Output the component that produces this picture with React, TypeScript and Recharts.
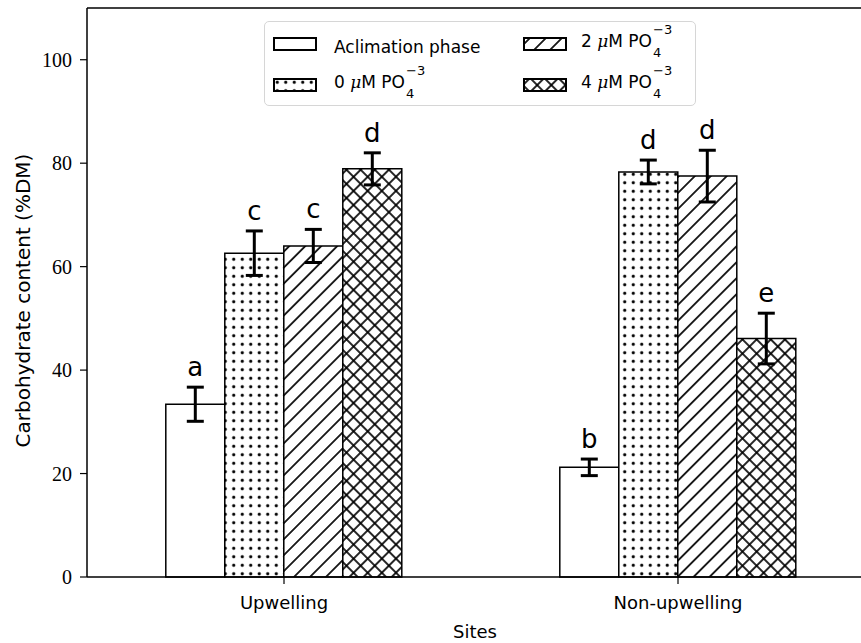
import { Bar, BarChart, ErrorBar, LabelList, Legend, ReferenceLine, XAxis, YAxis } from 'recharts';

const sites = ['Upwelling', 'Non-upwelling'];
const aclimation = [33.4, 21.2];
const po0 = [62.6, 78.3];
const po2 = [64.0, 77.5];
const po4 = [78.9, 46.1];
const aclimationErr = [3.3, 1.6];
const po0Err = [4.3, 2.3];
const po2Err = [3.2, 5.0];
const po4Err = [3.1, 4.9];
const aclimationLetters = ['a', 'b'];
const po0Letters = ['c', 'd'];
const po2Letters = ['c', 'd'];
const po4Letters = ['d', 'e'];
const yTicks = [0, 20, 40, 60, 80, 100];
const yMax = 110;

const data = sites.map((site, i) => ({
  site,
  acl: aclimation[i],
  p0: po0[i],
  p2: po2[i],
  p4: po4[i],
  eAcl: aclimationErr[i],
  e0: po0Err[i],
  e2: po2Err[i],
  e4: po4Err[i],
  lAcl: aclimationLetters[i],
  l0: po0Letters[i],
  l2: po2Letters[i],
  l4: po4Letters[i],
}));

const series = [
  { key: 'acl', err: 'eAcl', letter: 'lAcl', fill: '#fff', name: 'Aclimation phase' },
  { key: 'p0', err: 'e0', letter: 'l0', fill: 'url(#dots)', name: '0' },
  { key: 'p2', err: 'e2', letter: 'l2', fill: 'url(#diag)', name: '2' },
  { key: 'p4', err: 'e4', letter: 'l4', fill: 'url(#cross)', name: '4' },
];

// hatch patterns (dots, '/', 'x')
function Patterns({ prefix }: { prefix: string }) {
  return (
    <defs>
      <pattern id={prefix + 'dots'} width={8.5} height={8.5} patternUnits="userSpaceOnUse">
        <rect width={8.5} height={8.5} fill="#fff" />
        <circle cx={4.25} cy={4.25} r={1.6} fill="#000" />
      </pattern>
      <pattern id={prefix + 'diag'} width={11.3} height={11.3} patternUnits="userSpaceOnUse" patternTransform="rotate(45)">
        <rect width={11.3} height={11.3} fill="#fff" />
        <line x1={5.65} y1={0} x2={5.65} y2={11.3} stroke="#000" strokeWidth={1.7} />
      </pattern>
      <pattern id={prefix + 'cross'} width={10} height={10} patternUnits="userSpaceOnUse" patternTransform="rotate(45)">
        <rect width={10} height={10} fill="#fff" />
        <line x1={5} y1={0} x2={5} y2={10} stroke="#000" strokeWidth={1.7} />
        <line x1={0} y1={5} x2={10} y2={5} stroke="#000" strokeWidth={1.7} />
      </pattern>
    </defs>
  );
}

function LetterLabel(props: any) {
  const { x, y, width, height, index, valueKey, errKey, value } = props;
  const row: any = data[index];
  const pxPerUnit = height / row[valueKey];
  const capTop = y - row[errKey] * pxPerUnit;
  return (
    <text x={x + width / 2} y={capTop - 11} textAnchor="middle" fontFamily="DejaVu Sans" fontSize={26} fill="#000">
      {value}
    </text>
  );
}

function PoLabel({ n }: { n: string }) {
  return (
    <span>
      {n} <span style={{ fontFamily: 'DejaVu Serif', fontStyle: 'italic' }}>μ</span>M PO
      <span style={{ position: 'relative', display: 'inline-block', width: 20 }}>
        <span style={{ position: 'absolute', left: 1, top: -24, fontSize: 13, lineHeight: '13px' }}>−3</span>
        <span style={{ position: 'absolute', left: 1, top: -1, fontSize: 13, lineHeight: '13px' }}>4</span>
      </span>
    </span>
  );
}

function LegendBox() {
  const entries = [
    { fill: '#fff', left: 9, top: 16, textLeft: 69, textTop: 15, label: <span>Aclimation phase</span> },
    { fill: 'url(#ldots)', left: 9, top: 57, textLeft: 69, textTop: 50, label: <PoLabel n="0" /> },
    { fill: 'url(#ldiag)', left: 259, top: 16, textLeft: 316, textTop: 9, label: <PoLabel n="2" /> },
    { fill: 'url(#lcross)', left: 259, top: 57, textLeft: 316, textTop: 50, label: <PoLabel n="4" /> },
  ];
  return (
    <div
      style={{
        position: 'relative',
        width: 432,
        height: 85,
        border: '1.5px solid #d6d6d6',
        borderRadius: 5,
        boxSizing: 'border-box',
        background: '#fff',
        fontFamily: 'DejaVu Sans',
        fontSize: 17,
        color: '#000',
      }}
    >
      <svg width={0} height={0} style={{ position: 'absolute' }}>
        <Patterns prefix="l" />
      </svg>
      {entries.map((e, i) => (
        <div key={i}>
          <svg width={44} height={14} style={{ position: 'absolute', left: e.left - 1, top: e.top - 1 }}>
            <rect x={1} y={1} width={42} height={12} fill={e.fill} stroke="#000" strokeWidth={2} />
          </svg>
          <div style={{ position: 'absolute', left: e.textLeft, top: e.textTop, whiteSpace: 'nowrap', lineHeight: 'normal' }}>
            {e.label}
          </div>
        </div>
      ))}
    </div>
  );
}

function YLabel(props: any) {
  const { viewBox } = props;
  const cx = 23;
  const cy = viewBox.y + viewBox.height / 2 + 8;
  return (
    <text x={cx} y={cy} transform={`rotate(-90, ${cx}, ${cy})`} textAnchor="middle" dominantBaseline="central" fontFamily="DejaVu Sans" fontSize={20} fill="#000">
      Carbohydrate content (%DM)
    </text>
  );
}

export default function App() {
  return (
    <div style={{ position: 'absolute', left: 0, top: 0, width: 861, height: 643, overflow: 'hidden', background: '#fff' }}>
      <BarChart
        width={880}
        height={643}
        data={data}
        margin={{ top: 8, right: 5, bottom: 0, left: 0 }}
        barCategoryGap="20%"
        barGap={0}
      >
        <Patterns prefix="" />
        <XAxis
          dataKey="site"
          height={66}
          tickSize={7}
          tickMargin={12}
          tick={{ fontFamily: 'DejaVu Sans', fontSize: 18, fill: '#000' }}
          axisLine={{ stroke: '#000', strokeWidth: 1.5 }}
          tickLine={{ stroke: '#000', strokeWidth: 1.2 }}
          label={{ value: 'Sites', position: 'insideBottom', offset: 5, dx: -6, fontFamily: 'DejaVu Sans', fontSize: 18, fill: '#000' }}
        />
        <YAxis
          width={87}
          domain={[0, yMax]}
          ticks={yTicks}
          tickSize={7}
          tickMargin={8}
          tick={{ fontFamily: 'Liberation Serif', fontSize: 20, fill: '#000' }}
          axisLine={{ stroke: '#000', strokeWidth: 1.5 }}
          tickLine={{ stroke: '#000', strokeWidth: 1.2 }}
          label={<YLabel />}
        />
        <ReferenceLine y={yMax} stroke="#000" strokeWidth={1.5} />
        <Legend
          layout="horizontal"
          verticalAlign="middle"
          align="center"
          content={() => <LegendBox />}
          wrapperStyle={{ position: 'absolute', left: 264, top: 21, width: 432, height: 85 }}
        />
        {series.map((s) => (
          <Bar key={s.key} dataKey={s.key} name={s.name} fill={s.fill} stroke="#000" strokeWidth={1.5} isAnimationActive={false}>
            <ErrorBar dataKey={s.err} width={8.5} strokeWidth={3} stroke="#000" direction="y" isAnimationActive={false} />
            <LabelList dataKey={s.letter} content={<LetterLabel valueKey={s.key} errKey={s.err} />} />
          </Bar>
        ))}
      </BarChart>
    </div>
  );
}
